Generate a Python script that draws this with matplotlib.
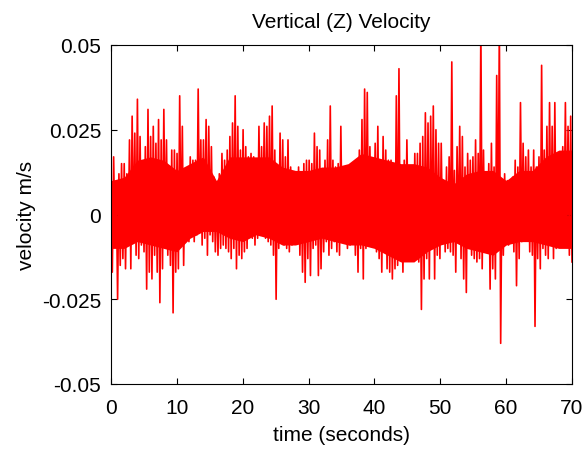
import numpy as np
import matplotlib
matplotlib.use("Agg")
import matplotlib.pyplot as plt

plt.rcParams['font.family'] = ['Liberation Sans', 'DejaVu Sans']

# Local maxima (m/s), one every 0.4 s, rows of 10 seconds
peaks = [
    0.010, 0.017, 0.009, 0.012, 0.015, 0.015, 0.012, 0.022, 0.029, 0.024, 0.034, 0.023, 0.014, 0.020, 0.031, 0.023, 0.026, 0.021, 0.028, 0.022, 0.031, 0.022, 0.013, 0.019, 0.019,
    0.018, 0.035, 0.026, 0.012, 0.013, 0.017, 0.016, 0.016, 0.037, 0.022, 0.022, 0.028, 0.026, 0.020, 0.011, 0.009, 0.012, 0.018, 0.016, 0.019, 0.023, 0.027, 0.035, 0.026, 0.019,
    0.025, 0.020, 0.017, 0.018, 0.017, 0.015, 0.026, 0.020, 0.027, 0.026, 0.029, 0.032, 0.019, 0.012, 0.024, 0.022, 0.017, 0.022, 0.014, 0.008, 0.010, 0.014, 0.011, 0.015, 0.016,
    0.016, 0.015, 0.024, 0.020, 0.019, 0.010, 0.016, 0.022, 0.032, 0.016, 0.014, 0.015, 0.026, 0.013, 0.012, 0.011, 0.014, 0.015, 0.016, 0.019, 0.028, 0.037, 0.036, 0.020, 0.016,
    0.021, 0.026, 0.014, 0.023, 0.019, 0.016, 0.016, 0.011, 0.035, 0.043, 0.014, 0.016, 0.022, 0.012, 0.014, 0.018, 0.018, 0.021, 0.023, 0.030, 0.027, 0.029, 0.032, 0.025, 0.021,
    0.021, 0.010, 0.014, 0.017, 0.045, 0.013, 0.020, 0.026, 0.023, 0.014, 0.018, 0.016, 0.017, 0.022, 0.018, 0.056, 0.019, 0.010, 0.015, 0.021, 0.014, 0.041, 0.056, 0.010, 0.012,
    0.010, 0.009, 0.011, 0.016, 0.014, 0.033, 0.021, 0.017, 0.019, 0.014, 0.019, 0.014, 0.017, 0.044, 0.019, 0.026, 0.033, 0.026, 0.033, 0.018, 0.017, 0.020, 0.033, 0.026, 0.029,
]

# Local minima (m/s), one every 0.4 s, rows of 10 seconds
troughs = [
    -0.017, -0.009, -0.025, -0.015, -0.013, -0.016, -0.009, -0.016, -0.007, -0.012, -0.013, -0.009, -0.011, -0.022, -0.017, -0.019, -0.012, -0.017, -0.026, -0.016, -0.007, -0.012, -0.015, -0.029, -0.017,
    -0.016, -0.008, -0.015, -0.007, -0.008, -0.006, -0.008, -0.006, -0.004, -0.009, -0.007, -0.012, -0.006, -0.008, -0.011, -0.012, -0.010, -0.009, -0.010, -0.011, -0.013, -0.010, -0.016, -0.012, -0.013,
    -0.011, -0.010, -0.004, -0.007, -0.009, -0.007, -0.006, -0.004, -0.007, -0.008, -0.009, -0.012, -0.025, -0.010, -0.008, -0.009, -0.010, -0.011, -0.009, -0.007, -0.008, -0.012, -0.017, -0.020, -0.013,
    -0.018, -0.010, -0.009, -0.018, -0.016, -0.011, -0.008, -0.012, -0.010, -0.008, -0.011, -0.012, -0.006, -0.008, -0.010, -0.009, -0.008, -0.012, -0.017, -0.010, -0.019, -0.010, -0.008, -0.007, -0.006,
    -0.011, -0.013, -0.017, -0.009, -0.016, -0.017, -0.019, -0.016, -0.015, -0.013, -0.017, -0.012, -0.004, -0.005, -0.008, -0.010, -0.014, -0.028, -0.019, -0.013, -0.019, -0.010, -0.019, -0.012, -0.013,
    -0.007, -0.011, -0.010, -0.011, -0.012, -0.017, -0.008, -0.013, -0.019, -0.023, -0.010, -0.012, -0.013, -0.014, -0.013, -0.016, -0.011, -0.010, -0.022, -0.016, -0.019, -0.010, -0.038, -0.012, -0.007,
    -0.009, -0.006, -0.011, -0.021, -0.013, -0.008, -0.006, -0.007, -0.011, -0.012, -0.033, -0.013, -0.016, -0.010, -0.012, -0.013, -0.009, -0.013, -0.010, -0.007, -0.003, -0.006, -0.009, -0.012, -0.014,
]

# Edges of the densely oscillating (solid) core, every 2 s from 0 to 70
core_top = [0.010, 0.011, 0.016, 0.017, 0.016, 0.013, 0.015, 0.017, 0.010, 0.017,
            0.017, 0.017, 0.017, 0.014, 0.013, 0.013, 0.014, 0.014, 0.015, 0.018,
            0.017, 0.016, 0.015, 0.015, 0.014, 0.011, 0.009, 0.012, 0.013, 0.013,
            0.010, 0.013, 0.013, 0.017, 0.019, 0.019]
core_bottom = [-0.010, -0.010, -0.008, -0.009, -0.010, -0.011, -0.007, -0.005, -0.005, -0.007,
               -0.008, -0.006, -0.007, -0.009, -0.009, -0.008, -0.007, -0.008, -0.009, -0.009,
               -0.010, -0.012, -0.014, -0.014, -0.011, -0.009, -0.008, -0.010, -0.011, -0.012,
               -0.009, -0.008, -0.008, -0.009, -0.010, -0.010]

x_ticks = [0, 10, 20, 30, 40, 50, 60, 70]
y_ticks = [-0.05, -0.025, 0, 0.025, 0.05]
y_tick_labels = ["-0.05", "-0.025", "0", "0.025", "0.05"]

duration = 70.0
velocity = np.empty(len(peaks) + len(troughs))
velocity[0::2] = peaks
velocity[1::2] = troughs
time = np.linspace(0, duration, len(velocity))
core_time = np.linspace(0, duration, len(core_top))

fig = plt.figure(figsize=(5.87, 4.52), dpi=100)
ax = fig.add_axes([111/587, 1 - 385/452, (572 - 111)/587, (385 - 46)/452])
ax.fill_between(core_time, core_bottom, core_top, color='#ff0000', lw=0)
ax.plot(time, velocity, color='#ff0000', lw=1.2)

ax.set_xlim(0, 70)
ax.set_ylim(-0.05, 0.05)
ax.set_xticks(x_ticks)
ax.set_yticks(y_ticks)
ax.set_yticklabels(y_tick_labels)
ax.tick_params(direction='in', top=True, right=True, length=4, width=0.8,
               labelsize=15)
ax.tick_params(axis='x', pad=10)
ax.tick_params(axis='y', pad=7)
for s in ax.spines.values():
    s.set_linewidth(0.8)
ax.set_title("Vertical (Z) Velocity", fontsize=15, pad=13)
ax.set_xlabel("time (seconds)", fontsize=15, labelpad=6)
ax.set_ylabel("velocity m/s", fontsize=15, labelpad=4)

fig.savefig("out.png", dpi=100)
